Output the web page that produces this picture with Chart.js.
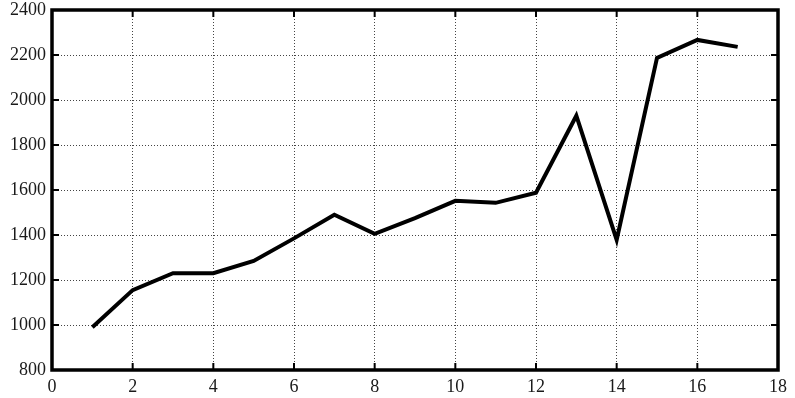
<!DOCTYPE html>
<html>
<head>
<meta charset="utf-8">
<style>
  html, body { margin: 0; padding: 0; background: #fff; }
  #wrap { width: 795px; height: 398px; }
</style>
<script src="https://cdn.jsdelivr.net/npm/chart.js@4/dist/chart.umd.min.js"></script>
</head>
<body>
<div id="wrap"><canvas id="chart" width="795" height="398"></canvas></div>
<script>
// ==========================
// DATA
// ==========================

const xValues = [1, 2, 3, 4, 5, 6, 7, 8, 9, 10, 11, 12, 13, 14, 15, 16, 17];
const yValues = [990, 1155, 1230, 1230, 1285, 1385, 1490, 1405, 1475, 1552, 1543, 1588, 1930, 1378, 2187, 2267, 2236];

const xTicks = [0, 2, 4, 6, 8, 10, 12, 14, 16, 18];
const yTicks = [800, 1000, 1200, 1400, 1600, 1800, 2000, 2200, 2400];

const points = xValues.map((x, i) => ({ x: x, y: yValues[i] }));

// ==========================
// FRAME + INWARD TICKS
// ==========================

const framePlugin = {
  id: "frame",
  afterDraw(chart) {
    const c = chart.ctx;
    const a = chart.chartArea;
    const xs = chart.scales.x;
    const ys = chart.scales.y;
    const len = 7;

    c.save();
    c.strokeStyle = "#000";
    c.lineWidth = 2;
    xTicks.forEach(v => {
      const px = xs.getPixelForValue(v);
      c.beginPath();
      c.moveTo(px, a.bottom); c.lineTo(px, a.bottom - len);
      c.moveTo(px, a.top); c.lineTo(px, a.top + len);
      c.stroke();
    });
    yTicks.forEach(v => {
      const py = ys.getPixelForValue(v);
      c.beginPath();
      c.moveTo(a.left, py); c.lineTo(a.left + len, py);
      c.moveTo(a.right, py); c.lineTo(a.right - len, py);
      c.stroke();
    });

    c.lineWidth = 3.5;
    c.strokeRect(a.left, a.top, a.right - a.left, a.bottom - a.top);
    c.restore();
  }
};

// ==========================
// CHART
// ==========================

const tickFont = { family: "Liberation Serif", size: 18 };

new Chart(document.getElementById("chart"), {
  type: "line",
  data: {
    datasets: [{
      data: points,
      borderColor: "#000",
      borderWidth: 4,
      pointRadius: 0,
      fill: false,
      tension: 0
    }]
  },
  options: {
    responsive: false,
    animation: false,
    events: [],
    layout: { padding: { top: 10, right: 17, left: 0, bottom: 0 } },
    plugins: {
      legend: { display: false },
      tooltip: { enabled: false }
    },
    scales: {
      x: {
        type: "linear",
        min: 0,
        max: 18,
        afterFit(scale) { scale.height = 28; scale.paddingLeft = 0; scale.paddingRight = 0; },
        afterBuildTicks(scale) { scale.ticks = xTicks.map(v => ({ value: v })); },
        ticks: { color: "#1a1a1a", font: tickFont, padding: 6, maxRotation: 0, callback: v => String(v) },
        grid: { color: "#444", lineWidth: 1, drawTicks: false },
        border: { display: false, dash: [1, 2] }
      },
      y: {
        min: 800,
        max: 2400,
        afterFit(scale) { scale.width = 52; scale.paddingTop = 0; scale.paddingBottom = 0; },
        afterBuildTicks(scale) { scale.ticks = yTicks.map(v => ({ value: v })); },
        ticks: { color: "#1a1a1a", font: tickFont, padding: 6, callback: v => String(v) },
        grid: { color: "#444", lineWidth: 1, drawTicks: false },
        border: { display: false, dash: [1, 2] }
      }
    }
  },
  plugins: [framePlugin]
});
</script>
</body>
</html>
